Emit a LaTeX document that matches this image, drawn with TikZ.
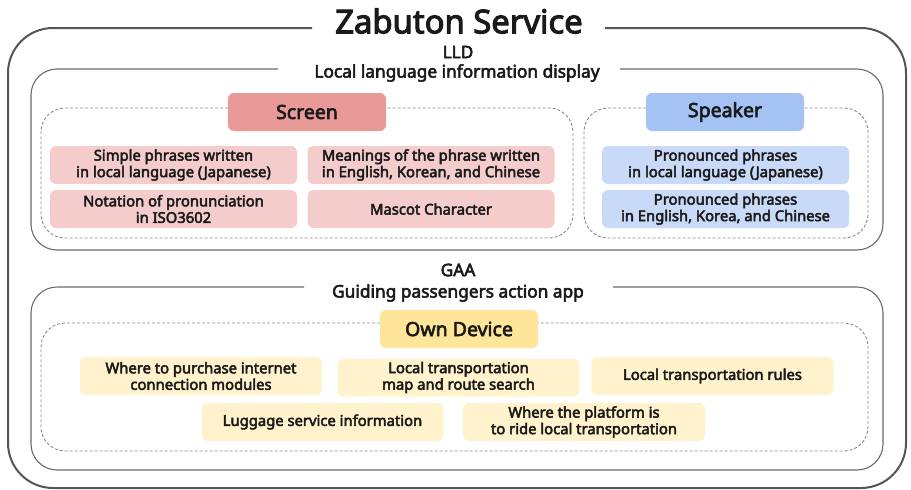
\documentclass[tikz,border=0pt]{standalone}
\usepackage{fontspec}
\setmainfont{Noto Sans}[AutoFakeBold=3.2]
\definecolor{framec}{HTML}{555555}
\definecolor{innerc}{HTML}{6A6A6A}
\definecolor{dashc}{HTML}{8A8A8A}
\definecolor{redhead}{HTML}{EA9999}
\definecolor{redcell}{HTML}{F4CCCC}
\definecolor{bluehead}{HTML}{A4C2F4}
\definecolor{bluecell}{HTML}{C9DAF8}
\definecolor{yelhead}{HTML}{FFE599}
\definecolor{yelcell}{HTML}{FFF2CC}
\definecolor{txt}{HTML}{1A1A1A}
\tikzset{
  head/.style={rounded corners=6pt, minimum width=158pt, minimum height=38pt,
    inner sep=0pt, text=txt, font=\fontsize{19.5}{22}\selectfont\bfseries},
  cell/.style={rounded corners=6pt, minimum width=247pt, minimum height=38pt,
    inner sep=0pt, align=center, text=txt, font=\fontsize{14.8}{16.5}\selectfont\bfseries},
  ycell/.style={cell, fill=yelcell, minimum width=242pt},
  lbl/.style={text=txt, inner sep=0pt, font=\fontsize{17.3}{19}\selectfont\bfseries},
  outerframe/.style={draw=framec, line width=2pt, rounded corners=45pt},
  innerframe/.style={draw=innerc, line width=1.1pt, rounded corners=26pt},
  dashframe/.style={draw=dashc, line width=0.9pt, dash pattern=on 3pt off 2pt, rounded corners=24pt},
}
\begin{document}
\begin{tikzpicture}[x=1pt, y=-1pt]
\useasboundingbox (0,0) rectangle (911,490);

% outer frame with a gap for the title
\draw[outerframe] (312,28) -- (8,28) -- (8,488) -- (906,488) -- (906,28) -- (605,28);
\node[text=txt, inner sep=0pt, font=\fontsize{32.8}{34}\selectfont\bfseries] (title) at (459,21) {Zabuton Service};

% LLD
\node[lbl] (lld) at (458,52) {LLD};
\node[lbl] (lldsub) at (457,73) {Local language information display};
\draw[innerframe] (278,69) -- (31,69) -- (31,250) -- (883,250) -- (883,69) -- (620,69);

\draw[dashframe] (228,108) -- (41,108) -- (41,238) -- (573,238) -- (573,108) -- (386,108);
\node[head, fill=redhead] (screen) at (307,112) {Screen};
\node[cell, fill=redcell] (s1) at (173.5,165) {Simple phrases written\\in local language (Japanese)};
\node[cell, fill=redcell] (s2) at (431,165) {Meanings of the phrase written\\in English, Korean, and Chinese};
\node[cell, fill=redcell] (s3) at (173.5,209) {Notation of pronunciation\\in ISO3602};
\node[cell, fill=redcell] (s4) at (431,209) {Mascot Character};

\draw[dashframe] (646,108) -- (584,108) -- (584,238) -- (868,238) -- (868,108) -- (804,108);
\node[head, fill=bluehead] (speaker) at (725,112) {Speaker};
\node[cell, fill=bluecell] (p1) at (725.5,165) {Pronounced phrases\\in local language (Japanese)};
\node[cell, fill=bluecell] (p2) at (725.5,209) {Pronounced phrases\\in English, Korea, and Chinese};

% GAA
\node[lbl] (gaa) at (458,270) {GAA};
\node[lbl] (gaasub) at (458,293) {Guiding passengers action app};
\draw[innerframe] (304,287) -- (31,287) -- (31,470) -- (883,470) -- (883,287) -- (613,287);

\draw[dashframe] (380,323) -- (41,323) -- (41,451) -- (868,451) -- (868,323) -- (538,323);
\node[head, fill=yelhead] (own) at (459,329) {Own Device};
\node[ycell] (g1) at (201,376) {Where to purchase internet\\connection modules};
\node[ycell] (g2) at (458.5,377.5) {Local transportation\\map and route search};
\node[ycell] (g3) at (712.5,376) {Local transportation rules};
\node[ycell] (g4) at (322.5,422) {Luggage service information};
\node[ycell] (g5) at (584,422) {Where the platform is\\to ride local transportation};
\end{tikzpicture}
\end{document}
